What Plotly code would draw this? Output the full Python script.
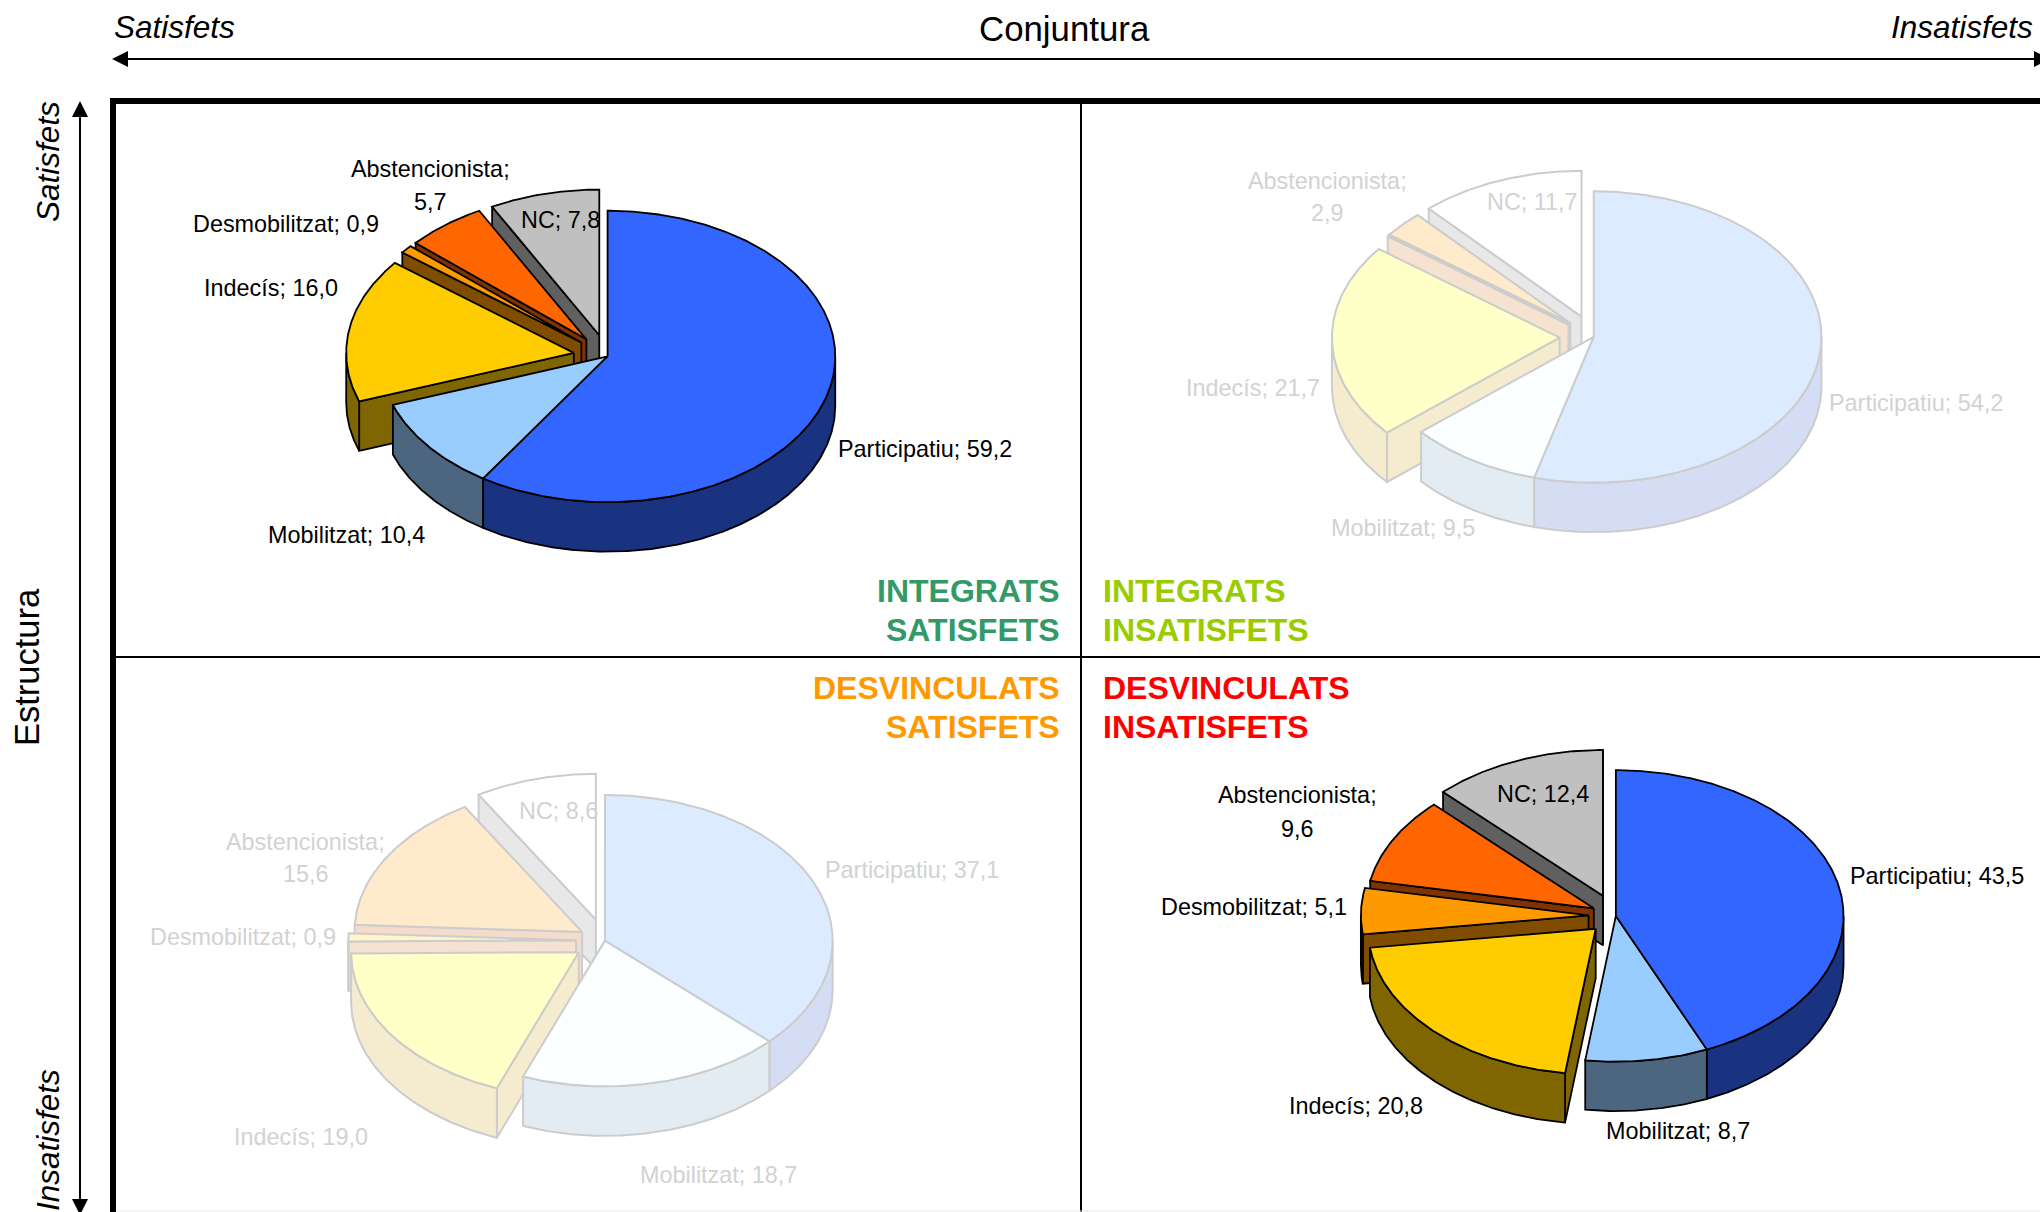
import math
import plotly.graph_objects as go

# Chart values, clockwise from 12 o'clock
segments = ["Participatiu", "Mobilitzat", "Indecís", "Desmobilitzat", "Abstencionista", "NC"]
integrats_satisfets = [59.2, 10.4, 16.0, 0.9, 5.7, 7.8]
integrats_insatisfets = [54.2, 9.5, 21.7, 0.0, 2.9, 11.7]
desvinculats_satisfets = [37.1, 18.7, 19.0, 0.9, 15.6, 8.6]
desvinculats_insatisfets = [43.5, 8.7, 20.8, 5.1, 9.6, 12.4]

quadrant_titles = ["INTEGRATS", "DESVINCULATS", "SATISFETS", "INSATISFETS"]

# Styling
WIDTH, HEIGHT = 2040, 1212
S = WIDTH / 1568  # label spots were measured on the 1568 wide view
RX, RY, DEPTH = 175 * S, 112 * S, 38 * S

TOP_COLORS = ["#3366FF", "#99CCFF", "#FFCC00", "#FF9900", "#FF6600", "#C0C0C0"]
WALL_COLORS = ["#1A3380", "#4D6680", "#806600", "#804C00", "#803300", "#606060"]
PALE_TOP_COLORS = ["#DCEBFF", "#FBFFFF", "#FFFFC8", "#FFF5C8", "#FFEBCC", "#FFFFFF"]
PALE_WALL_COLORS = ["#D5DDF5", "#E3EBF3", "#F5EBCF", "#F5E2D0", "#F3DCCB", "#E8E8E8"]

FONT = "Liberation Sans"
LABEL_SIZE = 23.4

fig = go.Figure()


def add_poly(xs, ys, fill, edge, width):
    fig.add_trace(go.Scatter(
        x=xs, y=ys, mode="lines", fill="toself", fillcolor=fill,
        line=dict(color=edge, width=width), hoverinfo="skip", showlegend=False,
    ))


def add_pie(values, pulls, cx, cy, tops, walls, edge, edge_width):
    total = sum(values)
    bounds = [0]
    for v in values:
        bounds.append(bounds[-1] + v / total * 360)

    # back slices first, the first slices sit in front
    for i in reversed(range(len(values))):
        a0, a1 = bounds[i], bounds[i + 1]
        mid = math.radians((a0 + a1) / 2)
        ox = cx + pulls[i] * RX * math.sin(mid)
        oy = cy - pulls[i] * RY * math.cos(mid)

        def point(deg):
            r = math.radians(deg)
            return ox + RX * math.sin(r), oy - RY * math.cos(r)

        # radial walls, only where the slice comes away from its neighbour
        prev_pull = pulls[(i - 1) % len(values)]
        next_pull = pulls[(i + 1) % len(values)]
        if math.sin(math.radians(a0)) < 0 and (pulls[i] or prev_pull):
            px, py = point(a0)
            add_poly([ox, px, px, ox, ox], [oy, py, py + DEPTH, oy + DEPTH, oy], walls[i], edge, edge_width)
        if math.sin(math.radians(a1)) > 0 and (pulls[i] or next_pull):
            px, py = point(a1)
            add_poly([ox, px, px, ox, ox], [oy, py, py + DEPTH, oy + DEPTH, oy], walls[i], edge, edge_width)

        # outer wall on the front half only
        w0, w1 = max(a0, 90), min(a1, 270)
        if w1 > w0:
            steps = max(2, int(w1 - w0) * 2)
            arc = [point(w0 + (w1 - w0) * k / steps) for k in range(steps + 1)]
            xs = [p[0] for p in arc] + [p[0] for p in reversed(arc)]
            ys = [p[1] for p in arc] + [p[1] + DEPTH for p in reversed(arc)]
            add_poly(xs + xs[:1], ys + ys[:1], walls[i], edge, edge_width)

        # top face
        steps = max(2, int(a1 - a0) * 2)
        arc = [point(a0 + (a1 - a0) * k / steps) for k in range(steps + 1)]
        xs = [ox] + [p[0] for p in arc] + [ox]
        ys = [oy] + [p[1] for p in arc] + [oy]
        add_poly(xs, ys, tops[i], edge, edge_width)


def add_text(text, x, y, size, color="#000000", italic=False, bold=False, anchor="center", angle=0):
    fig.add_annotation(
        x=x, y=y, xref="x", yref="y", text=text, showarrow=False, xanchor=anchor, yanchor="middle",
        textangle=angle, borderpad=0,
        font=dict(family=FONT, size=size, color=color, style="italic" if italic else "normal",
                  weight="bold" if bold else "normal"),
    )


def add_labels(values, spots, color):
    for name, value, spot in zip(segments, values, spots):
        if spot is None:
            continue
        num = f"{value:.1f}".replace(".", ",")
        if len(spot) == 4:  # label broken on two lines
            add_text(f"{name};", spot[0] * S, spot[1] * S, LABEL_SIZE, color)
            add_text(num, spot[2] * S, spot[3] * S, LABEL_SIZE, color)
        else:
            add_text(f"{name}; {num}", spot[0] * S, spot[1] * S, LABEL_SIZE, color)


add_pie(integrats_satisfets, [0, 0, 0.15, 0.15, 0.15, 0.15],
        467 * S, 274 * S, TOP_COLORS, WALL_COLORS, "#000000", 1.8)
add_pie(integrats_insatisfets, [0, 0, 0.15, 0.14, 0.14, 0.15],
        1225 * S, 259 * S, PALE_TOP_COLORS, PALE_WALL_COLORS, "#CCCCCC", 2)
add_pie(desvinculats_satisfets, [0, 0, 0.14, 0.127, 0.117, 0.15],
        465 * S, 723 * S, PALE_TOP_COLORS, PALE_WALL_COLORS, "#CCCCCC", 2)
add_pie(desvinculats_insatisfets, [0, 0, 0.125, 0.12, 0.11, 0.15],
        1242 * S, 704 * S, TOP_COLORS, WALL_COLORS, "#000000", 1.8)

PALE_TEXT = "#D2D2D2"
add_labels(integrats_satisfets, [(711, 345), (266, 411), (208, 221), (220, 172), (331, 130, 331, 155), (431, 169)], "#000000")
add_labels(integrats_insatisfets, [(1473, 310), (1078, 406), (963, 298), None, (1020, 139, 1020, 164), (1178, 155)], PALE_TEXT)
add_labels(desvinculats_satisfets, [(701, 669), (552, 903), (231, 874), (187, 720), (235, 647, 235, 672), (429, 623)], PALE_TEXT)
add_labels(desvinculats_insatisfets, [(1489, 673), (1290, 869), (1042, 850), (964, 697), (997, 611, 997, 637), (1186, 610)], "#000000")

# Quadrant names
add_text(quadrant_titles[0], 1061, 591, 32, "#339966", bold=True, anchor="right")
add_text(quadrant_titles[2], 1061, 630, 32, "#339966", bold=True, anchor="right")
add_text(quadrant_titles[0], 1102, 591, 32, "#99CC00", bold=True, anchor="left")
add_text(quadrant_titles[3], 1102, 630, 32, "#99CC00", bold=True, anchor="left")
add_text(quadrant_titles[1], 1061, 688, 32, "#FF9900", bold=True, anchor="right")
add_text(quadrant_titles[2], 1061, 727, 32, "#FF9900", bold=True, anchor="right")
add_text(quadrant_titles[1], 1102, 688, 32, "#FF0000", bold=True, anchor="left")
add_text(quadrant_titles[3], 1102, 727, 32, "#FF0000", bold=True, anchor="left")

# Axis captions
add_text("Conjuntura", 1064, 28, 34.8)
add_text("Satisfets", 113, 27, 31.5, italic=True, anchor="left")
add_text("Insatisfets", 2034, 27, 31.5, italic=True, anchor="right")
add_text("Estructura", 27, 667, 34.5, angle=-90)
add_text("Satisfets", 48, 162, 31.5, italic=True, angle=-90)
add_text("Insatisfets", 48, 1140, 31.5, italic=True, angle=-90)


def line(x0, y0, x1, y1, width, color="#000000"):
    return dict(type="line", xref="x", yref="y", x0=x0, y0=y0, x1=x1, y1=y1,
                line=dict(color=color, width=width))


def head(path):
    return dict(type="path", xref="x", yref="y", path=path, fillcolor="#000000", line=dict(width=0))


shapes = [
    line(113, 101, 2040, 101, 6),
    line(113, 98, 113, 1212, 6),
    line(1081, 101, 1081, 1212, 2),
    line(113, 657, 2040, 657, 2),
    line(116, 1211, 2040, 1211, 1, "#E8E8E8"),
    # Conjuntura arrow
    line(120, 59, 2040, 59, 2),
    head("M 112 59 L 128 51 L 128 67 Z"),
    head("M 2050 59 L 2034 51 L 2034 67 Z"),
    # Estructura arrow
    line(80, 110, 80, 1205, 2),
    head("M 80 101 L 72 117 L 88 117 Z"),
    head("M 80 1215 L 72 1199 L 88 1199 Z"),
]

fig.update_layout(
    width=WIDTH, height=HEIGHT,
    margin=dict(l=0, r=0, t=0, b=0),
    paper_bgcolor="white", plot_bgcolor="white",
    showlegend=False,
    xaxis=dict(visible=False, range=[0, WIDTH], fixedrange=True),
    yaxis=dict(visible=False, range=[HEIGHT, 0], fixedrange=True),
    shapes=shapes,
)

fig.write_html("out.html", config={"displayModeBar": False},
               post_script="document.body.style.margin='0';")
